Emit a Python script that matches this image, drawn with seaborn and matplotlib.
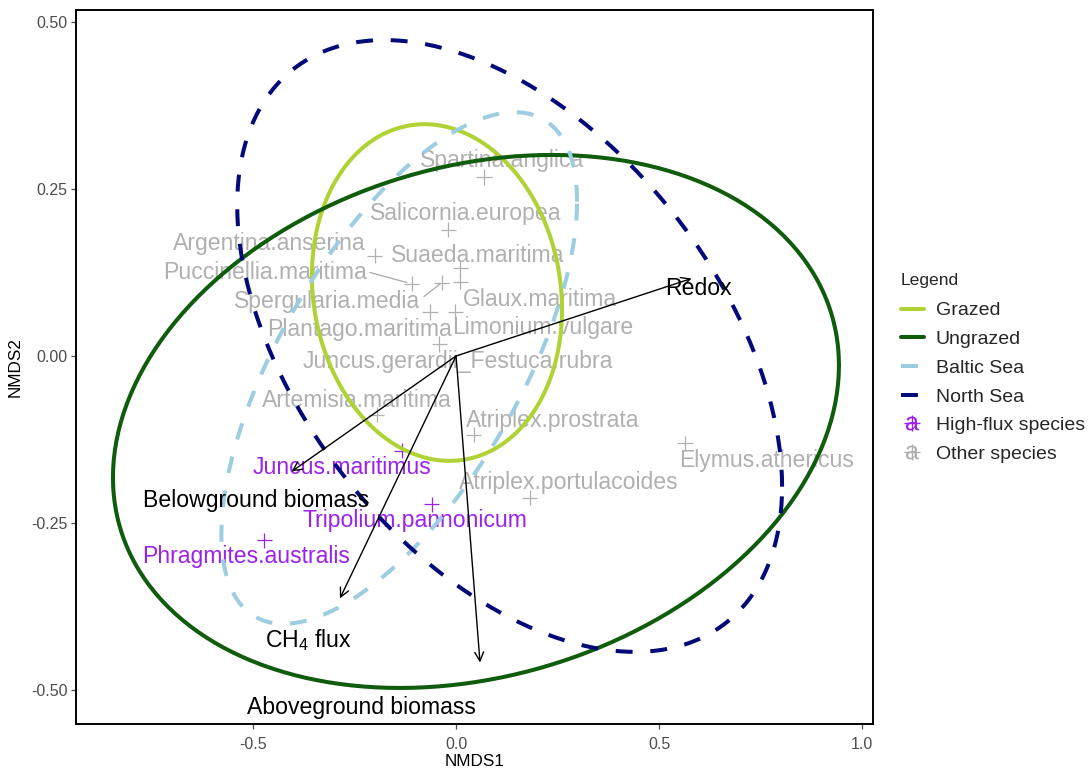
import numpy as np
import pandas as pd
import matplotlib
matplotlib.use("Agg")
import matplotlib.pyplot as plt
import seaborn as sns
from matplotlib.lines import Line2D
from matplotlib.legend_handler import HandlerTuple

# ---- species scores (NMDS1, NMDS2) and label anchors ----
species = ["Spartina.anglica", "Salicornia.europea", "Argentina.anserina",
           "Suaeda.maritima", "Puccinellia.maritima", "Spergularia.media",
           "Glaux.maritima", "Plantago.maritima", "Limonium.vulgare",
           "Juncus.gerardii_Festuca.rubra", "Artemisia.maritima",
           "Atriplex.prostrata", "Atriplex.portulacoides", "Elymus.athericus",
           "Juncus.maritimus", "Tripolium.pannonicum", "Phragmites.australis"]
sp_x = [0.069, -0.019, -0.200, 0.010, -0.109, -0.035, 0.010, -0.064, -0.002,
        -0.041, -0.195, 0.043, 0.181, 0.564, -0.134, -0.060, -0.472]
sp_y = [0.268, 0.189, 0.150, 0.131, 0.108, 0.110, 0.111, 0.066, 0.066,
        0.018, -0.088, -0.118, -0.212, -0.131, -0.142, -0.222, -0.276]
sp_group = ["Other species"] * 14 + ["High-flux species"] * 3
lab_x = [0.113, 0.025, -0.459, 0.053, -0.471, -0.318, 0.207, -0.238, 0.213,
         0.004, -0.245, 0.238, 0.278, 0.764, -0.280, -0.102, -0.516]
lab_y = [0.293, 0.213, 0.168, 0.151, 0.125, 0.082, 0.085, 0.039, 0.043,
         -0.0085, -0.066, -0.097, -0.189, -0.156, -0.167, -0.247, -0.300]
# repel segments: label edge -> species point
seg_species = ["Puccinellia.maritima", "Spergularia.media"]
seg_x0 = [-0.212, -0.079]
seg_y0 = [0.125, 0.089]

# ---- fitted environmental vectors ----
env_names = ["Redox", "Belowground biomass", r"CH$_4$ flux", "Aboveground biomass"]
env_x = [0.580, -0.405, -0.286, 0.059]
env_y = [0.116, -0.173, -0.363, -0.459]
env_lab_x = [0.597, -0.493, -0.364, -0.234]
env_lab_y = [0.101, -0.217, -0.425, -0.527]

# ---- group ellipses: centre, half extents, correlation ----
ell_groups = ["Grazed", "Ungrazed", "Baltic Sea", "North Sea"]
ell_cx = [-0.047, 0.049, -0.140, 0.132]
ell_cy = [0.095, -0.098, -0.018, 0.015]
ell_rx = [0.308, 0.894, 0.438, 0.671]
ell_ry = [0.252, 0.399, 0.383, 0.458]
ell_r = [-0.10, 0.21, 0.65, -0.46]

x_ticks = [-0.5, 0.0, 0.5, 1.0]
y_ticks = [-0.50, -0.25, 0.00, 0.25, 0.50]

ell_colors = {"Grazed": "#AFD235", "Ungrazed": "#0E5C0C",
              "Baltic Sea": "#9CCDE0", "North Sea": "#020A7A"}
ell_styles = {"Grazed": "-", "Ungrazed": "-",
              "Baltic Sea": (0, (4.2, 4.4)), "North Sea": (0, (4.2, 4.4))}
sp_colors = {"High-flux species": "#9B22EE", "Other species": "#B0B0B0"}

sns.set_style("ticks")
plt.rcParams["font.family"] = ["Liberation Sans", "DejaVu Sans"]
plt.rcParams["mathtext.fontset"] = "custom"
plt.rcParams["mathtext.rm"] = "Liberation Sans"
plt.rcParams["mathtext.it"] = "Liberation Sans:italic"
plt.rcParams["mathtext.default"] = "regular"

fig = plt.figure(figsize=(10.89, 7.69), dpi=100)
ax = fig.add_axes([0.0698, 0.0585, 0.7319, 0.9285])

# ellipses
t = np.linspace(0, 2 * np.pi, 361)
rows = []
for g, cx, cy, rx, ry, r in zip(ell_groups, ell_cx, ell_cy, ell_rx, ell_ry, ell_r):
    ex = cx + rx * np.cos(t)
    ey = cy + ry * (r * np.cos(t) + np.sqrt(1 - r ** 2) * np.sin(t))
    rows.append(pd.DataFrame({"x": ex, "y": ey, "group": g}))
ell_df = pd.concat(rows, ignore_index=True)
for g in ell_groups:
    sub = ell_df[ell_df["group"] == g]
    sns.lineplot(data=sub, x="x", y="y", sort=False, estimator=None, ax=ax,
                 color=ell_colors[g], linewidth=2.9, linestyle=ell_styles[g],
                 zorder=4)

# species points and labels
sp_df = pd.DataFrame({"species": species, "x": sp_x, "y": sp_y,
                      "group": sp_group, "lx": lab_x, "ly": lab_y})
sns.scatterplot(data=sp_df, x="x", y="y", hue="group", palette=sp_colors,
                marker="+", s=120, linewidth=0.9, legend=False, ax=ax, zorder=3)
for _, row in sp_df.iterrows():
    ax.text(row["lx"], row["ly"], row["species"], color=sp_colors[row["group"]],
            fontsize=16.6, ha="center", va="center", zorder=2)
for name, x0, y0 in zip(seg_species, seg_x0, seg_y0):
    px, py = sp_df.loc[sp_df["species"] == name, ["x", "y"]].values[0]
    ax.plot([x0, x0 + 0.88 * (px - x0)], [y0, y0 + 0.88 * (py - y0)],
            color=sp_colors["Other species"], lw=1.0, zorder=2)

# environmental arrows
for name, vx, vy, tx, ty in zip(env_names, env_x, env_y, env_lab_x, env_lab_y):
    ax.annotate("", xy=(vx, vy), xytext=(0, 0),
                arrowprops=dict(arrowstyle="->", color="black", lw=1.0,
                                shrinkA=0, shrinkB=0, mutation_scale=16),
                zorder=5)
    ax.text(tx, ty, name, color="black", fontsize=16.6, ha="center",
            va="center", zorder=5)

ax.set_xlim(-0.936, 1.027)
ax.set_ylim(-0.551, 0.518)
ax.set_xticks(x_ticks)
ax.set_xticklabels([f"{v:.1f}" for v in x_ticks])
ax.set_yticks(y_ticks)
ax.set_yticklabels([f"{v:.2f}" for v in y_ticks])
ax.tick_params(axis="both", labelsize=11.5, colors="#4D4D4D", length=3.5,
               width=0.9, labelcolor="#4D4D4D")
ax.tick_params(axis="x", pad=6.0)
ax.tick_params(axis="y", pad=2.5)
ax.set_xlabel("NMDS1", fontsize=12.3, color="black", labelpad=1.5)
ax.set_ylabel("NMDS2", fontsize=12.3, color="black", labelpad=6)
for sp in ax.spines.values():
    sp.set_visible(True)
    sp.set_color("black")
    sp.set_linewidth(1.4)

# legend
handles = []
labels = []
for g in ell_groups:
    handles.append(Line2D([], [], color=ell_colors[g], lw=2.9,
                          linestyle=ell_styles[g]))
    labels.append(g)
for g in ["High-flux species", "Other species"]:
    h_plus = Line2D([], [], color=sp_colors[g], marker="+", markersize=11,
                    markeredgewidth=1.0, linestyle="none")
    h_a = Line2D([], [], color=sp_colors[g], marker=r"$\mathrm{a}$",
                 markersize=10, markeredgewidth=0, linestyle="none")
    handles.append((h_plus, h_a))
    labels.append(g)
leg = fig.legend(handles, labels, title="Legend", loc="upper left",
                 bbox_to_anchor=(0.827, 0.645), frameon=False,
                 fontsize=14, title_fontsize=12.6, alignment="left",
                 handlelength=1.2, handletextpad=0.62, labelspacing=0.57,
                 borderpad=0, borderaxespad=0,
                 handler_map={tuple: HandlerTuple(ndivide=1)})
leg._legend_box.sep = 10

fig.savefig("out.png", dpi=100)
